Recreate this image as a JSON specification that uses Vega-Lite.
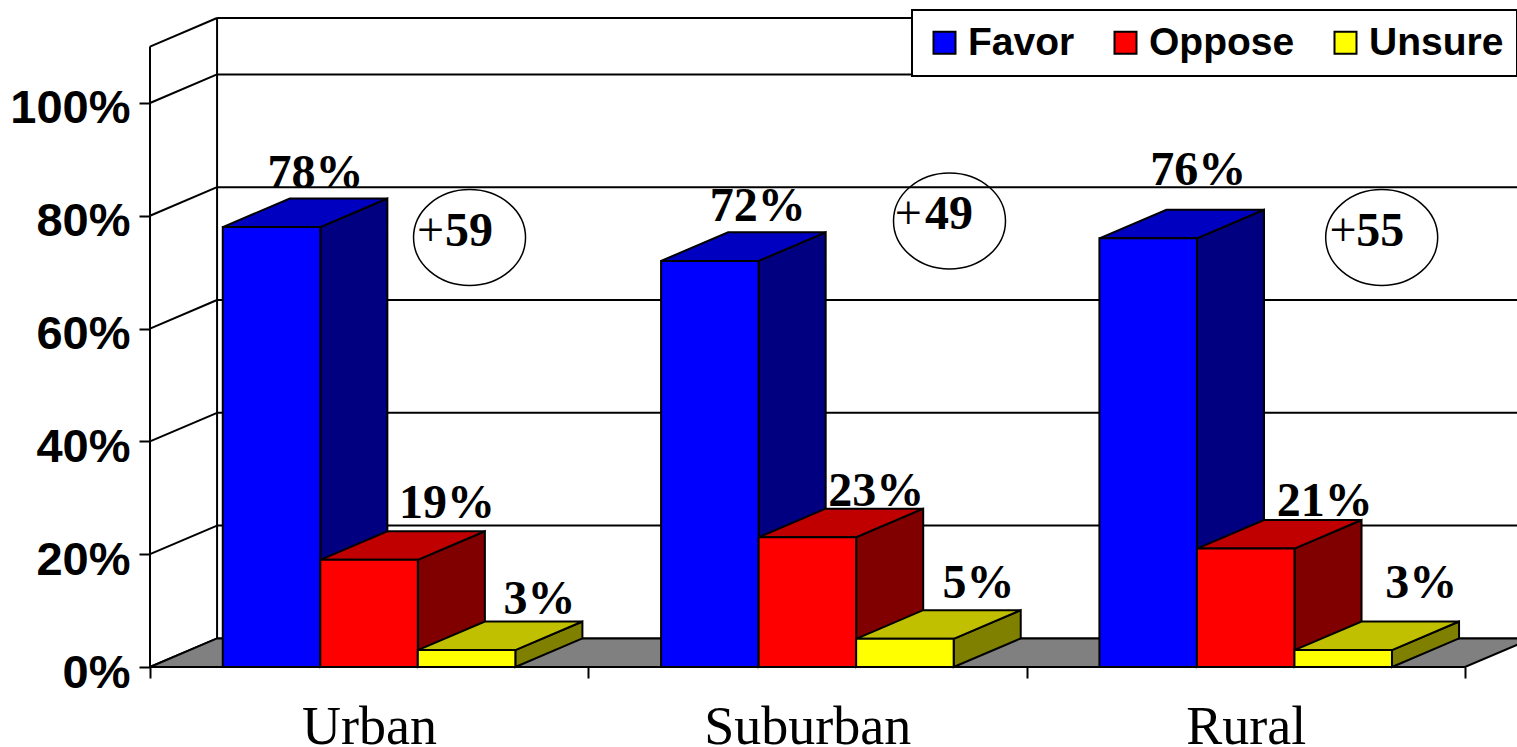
{
"$schema":"https://vega.github.io/schema/vega-lite/v6.json",
"width":1367,"height":667,"autosize":"none","padding":{"left":150,"top":0,"right":0,"bottom":80},"background":"white",
"params":[{"name":"depthX","value":0.153},{"name":"depthY","value":5.07},{"name":"barW","value":0.2225},{"name":"startX","value":0.166}],
"config":{"view":{"stroke":null}},
"datasets":{
"bars":[
{"group":"Urban","series":"Favor","value":78},{"group":"Urban","series":"Oppose","value":19},{"group":"Urban","series":"Unsure","value":3},
{"group":"Suburban","series":"Favor","value":72},{"group":"Suburban","series":"Oppose","value":23},{"group":"Suburban","series":"Unsure","value":5},
{"group":"Rural","series":"Favor","value":76},{"group":"Rural","series":"Oppose","value":21},{"group":"Rural","series":"Unsure","value":3}],
"levels":[{"level":0},{"level":20},{"level":40},{"level":60},{"level":80},{"level":100},{"level":110}],
"margins":[{"group":"Urban","margin":59},{"group":"Suburban","margin":49},{"group":"Rural","margin":55}]
},
"resolve":{"scale":{"color":"independent"}},
"layer":[
{"data":{"name":"levels"},"transform":[{"calculate":"0","as":"xa"},{"calculate":"depthX","as":"xb"},{"calculate":"datum.level+depthY","as":"yb"}],
 "mark":{"type":"rule","color":"black","strokeWidth":2},
 "encoding":{"x":{"field":"xa","type":"quantitative","scale":{"domain":[0,3.1187]},"title":null,
   "axis":{"values":[0,1,2,3],"labelExpr":"datum.value==0?'Urban':datum.value==1?'Suburban':datum.value==2?'Rural':''","labelOffset":219,"labelFont":"Liberation Serif","labelFontSize":54,"labelColor":"black","labelBaseline":"alphabetic","labelPadding":65,"labelFlush":false,"labelBound":false,"labelOverlap":false,"labelLimit":500,"tickSize":11,"tickColor":"black","tickWidth":2,"domain":false,"grid":false}},
  "x2":{"field":"xb"},
  "y":{"field":"level","type":"quantitative","scale":{"domain":[0,118.26]},"title":null,
   "axis":{"values":[0,20,40,60,80,100],"labelExpr":"datum.value+'%'","labelFont":"Liberation Sans","labelFontWeight":"bold","labelFontSize":47,"labelColor":"black","labelBaseline":"alphabetic","labelOffset":20,"labelPadding":9,"labelBound":false,"labelOverlap":false,"labelLimit":300,"tickSize":11,"tickColor":"black","tickWidth":2,"domain":false,"grid":false}},
  "y2":{"field":"yb"}}},
{"data":{"name":"levels"},"transform":[{"calculate":"depthX","as":"xa"},{"calculate":"3.1187","as":"xb"},{"calculate":"datum.level+depthY","as":"yb"}],
 "mark":{"type":"rule","color":"black","strokeWidth":2},
 "encoding":{"x":{"field":"xa","type":"quantitative","scale":{"domain":[0,3.1187]},"title":null},"x2":{"field":"xb"},"y":{"field":"yb","type":"quantitative","scale":{"domain":[0,118.26]},"title":null}}},
{"data":{"name":"levels"},"transform":[{"filter":"datum.level==110"},{"calculate":"[0,1]","as":"w"},{"flatten":["w"]},{"calculate":"datum.w*depthX","as":"xa"},{"calculate":"datum.w*depthY","as":"ya"},{"calculate":"datum.level+datum.w*depthY","as":"yb"}],
 "mark":{"type":"rule","color":"black","strokeWidth":2},
 "encoding":{"x":{"field":"xa","type":"quantitative","scale":{"domain":[0,3.1187]},"title":null},"y":{"field":"ya","type":"quantitative","scale":{"domain":[0,118.26]},"title":null},"y2":{"field":"yb"}}},
{"data":{"values":[{"part":"floor"}]},"transform":[{"calculate":"[0,1,2,3]","as":"t"},{"flatten":["t"]},
  {"calculate":"datum.t==0?0:datum.t==1?depthX:datum.t==2?3:3+depthX","as":"xa"},
  {"calculate":"datum.t==3?depthY:0","as":"ya"},
  {"calculate":"datum.t==0?0:depthY","as":"yb"}],
 "mark":{"type":"area","orient":"vertical","fill":"#808080","stroke":"black","strokeWidth":2},
 "encoding":{"x":{"field":"xa","type":"quantitative","scale":{"domain":[0,3.1187]},"title":null},"y":{"field":"ya","type":"quantitative","scale":{"domain":[0,118.26]},"title":null,"stack":null},"y2":{"field":"yb"}}},
{"data":{"name":"bars"},"transform":[
  {"calculate":"indexof(['Urban','Suburban','Rural'],datum.group)+startX+indexof(['Favor','Oppose','Unsure'],datum.series)*barW+barW","as":"x1"},
  {"calculate":"[0,1]","as":"t"},{"flatten":["t"]},
  {"calculate":"datum.x1+datum.t*depthX","as":"xa"},{"calculate":"datum.t*depthY","as":"ya"},{"calculate":"datum.value+datum.t*depthY","as":"yb"},{"calculate":"datum.group+datum.series","as":"bar"}],
 "mark":{"type":"area","orient":"vertical","stroke":"black","strokeWidth":2,"opacity":1},
 "encoding":{"x":{"field":"xa","type":"quantitative","scale":{"domain":[0,3.1187]},"title":null},"y":{"field":"ya","type":"quantitative","scale":{"domain":[0,118.26]},"title":null,"stack":null},"y2":{"field":"yb"},"detail":{"field":"bar"},
  "color":{"field":"series","type":"nominal","legend":null,"scale":{"domain":["Favor","Oppose","Unsure"],"range":["#000080","#800000","#808000"]}}}},
{"data":{"name":"bars"},"transform":[
  {"calculate":"indexof(['Urban','Suburban','Rural'],datum.group)+startX+indexof(['Favor','Oppose','Unsure'],datum.series)*barW","as":"x0"},
  {"calculate":"[0,1,2,3]","as":"t"},{"flatten":["t"]},
  {"calculate":"datum.t==0?datum.x0:datum.t==1?datum.x0+depthX:datum.t==2?datum.x0+barW:datum.x0+barW+depthX","as":"xa"},
  {"calculate":"datum.t==3?datum.value+depthY:datum.value","as":"ya"},
  {"calculate":"datum.t==0?datum.value:datum.value+depthY","as":"yb"},{"calculate":"datum.group+datum.series","as":"bar"}],
 "mark":{"type":"area","orient":"vertical","stroke":"black","strokeWidth":2,"opacity":1},
 "encoding":{"x":{"field":"xa","type":"quantitative","scale":{"domain":[0,3.1187]},"title":null},"y":{"field":"ya","type":"quantitative","scale":{"domain":[0,118.26]},"title":null,"stack":null},"y2":{"field":"yb"},"detail":{"field":"bar"},
  "color":{"field":"series","type":"nominal","legend":null,"scale":{"domain":["Favor","Oppose","Unsure"],"range":["#0000C0","#C00000","#C0C000"]}}}},
{"data":{"name":"bars"},"transform":[
  {"calculate":"indexof(['Urban','Suburban','Rural'],datum.group)+startX+indexof(['Favor','Oppose','Unsure'],datum.series)*barW","as":"x0"},
  {"calculate":"datum.x0+barW","as":"x1"}],
 "mark":{"type":"bar","stroke":"black","strokeWidth":2,"opacity":1},
 "encoding":{"x":{"field":"x0","type":"quantitative","scale":{"domain":[0,3.1187]},"title":null},"x2":{"field":"x1"},"y":{"field":"value","type":"quantitative","scale":{"domain":[0,118.26]},"title":null,"stack":null},"y2":{"datum":0},
  "color":{"field":"series","type":"nominal","scale":{"domain":["Favor","Oppose","Unsure"],"range":["#0000FF","#FF0000","#FFFF00"]},
   "legend":{"title":null,"orient":"none","legendX":762,"legendY":10,"direction":"horizontal","columns":3,"columnPadding":31,"symbolType":"square","symbolSize":484,"symbolStrokeColor":"black","symbolStrokeWidth":2,"labelFont":"Liberation Sans","labelFontWeight":"bold","labelFontSize":39,"labelColor":"black","labelOffset":4,"labelLimit":300,"fillColor":"white","strokeColor":"black","padding":13,"cornerRadius":0,"encoding":{"legend":{"strokeWidth":{"value":2}}}}}}},
{"data":{"name":"bars"},"transform":[
  {"calculate":"indexof(['Urban','Suburban','Rural'],datum.group)","as":"gi"},
  {"calculate":"indexof(['Favor','Oppose','Unsure'],datum.series)","as":"si"},
  {"calculate":"[[44,78,73],[48,69,73.5],[50,79,78]][datum.gi][datum.si]/438.33","as":"ox"},
  {"calculate":"[[6.9,7.4,6.4],[7.1,5.5,7.3],[9.4,5.7,9.2]][datum.gi][datum.si]","as":"oy"},
  {"calculate":"datum.gi+startX+datum.si*barW+barW/2+datum.ox","as":"lx"},
  {"calculate":"datum.value+datum.oy","as":"ly"},
  {"calculate":"datum.value+'%'","as":"label"}],
 "mark":{"type":"text","font":"Liberation Serif","fontWeight":"bold","fontSize":48,"align":"center","baseline":"alphabetic","color":"black"},
 "encoding":{"x":{"field":"lx","type":"quantitative","scale":{"domain":[0,3.1187]},"title":null},"y":{"field":"ly","type":"quantitative","scale":{"domain":[0,118.26]},"title":null},"text":{"field":"label"}}},
{"data":{"name":"margins"},"transform":[
  {"calculate":"indexof(['Urban','Suburban','Rural'],datum.group)","as":"gi"},
  {"calculate":"[0.729,1.824,2.81][datum.gi]","as":"ex"},
  {"calculate":"[76.15,79.08,76.15][datum.gi]","as":"ey"}],
 "mark":{"type":"point","shape":"M-1,0A1,0.857,0,1,1,1,0A1,0.857,0,1,1,-1,0Z","size":12544,"filled":false,"stroke":"black","strokeWidth":1.5,"opacity":1},
 "encoding":{"x":{"field":"ex","type":"quantitative","scale":{"domain":[0,3.1187]},"title":null},"y":{"field":"ey","type":"quantitative","scale":{"domain":[0,118.26]},"title":null}}},
{"data":{"name":"margins"},"transform":[
  {"calculate":"indexof(['Urban','Suburban','Rural'],datum.group)","as":"gi"},
  {"calculate":"[0.609,1.699,2.691][datum.gi]","as":"ex"},
  {"calculate":"[74.6,77.6,74.6][datum.gi]","as":"ey"}],
 "mark":{"type":"text","text":"+","font":"Liberation Serif","fontSize":48,"align":"left","baseline":"alphabetic","color":"black"},
 "encoding":{"x":{"field":"ex","type":"quantitative","scale":{"domain":[0,3.1187]},"title":null},"y":{"field":"ey","type":"quantitative","scale":{"domain":[0,118.26]},"title":null}}},
{"data":{"name":"margins"},"transform":[
  {"calculate":"indexof(['Urban','Suburban','Rural'],datum.group)","as":"gi"},
  {"calculate":"[0.673,1.768,2.752][datum.gi]","as":"ex"},
  {"calculate":"[74.6,77.6,74.6][datum.gi]","as":"ey"}],
 "mark":{"type":"text","font":"Liberation Serif","fontWeight":"bold","fontSize":48,"align":"left","baseline":"alphabetic","color":"black"},
 "encoding":{"x":{"field":"ex","type":"quantitative","scale":{"domain":[0,3.1187]},"title":null},"y":{"field":"ey","type":"quantitative","scale":{"domain":[0,118.26]},"title":null},"text":{"field":"margin"}}}
]
}
